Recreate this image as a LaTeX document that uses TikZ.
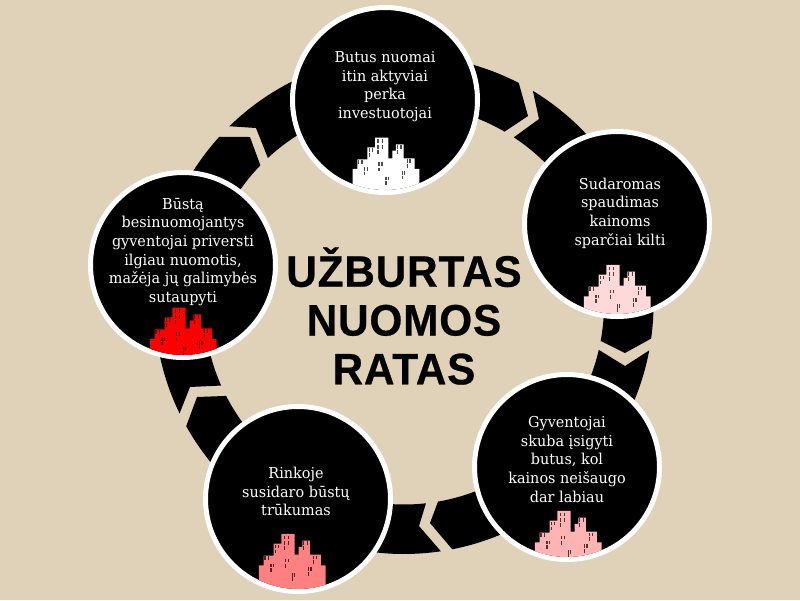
\documentclass[tikz,border=0pt]{standalone}
\usepackage{fontspec}
\setmainfont[FakeStretch=0.96]{DejaVu Serif}
\newfontfamily\titlefont[FakeStretch=0.96,LetterSpace=2,FakeBold=0.6]{Liberation Sans Bold}
\definecolor{bgc}{HTML}{E0D2B8}
\definecolor{c1}{HTML}{FFFFFF}
\definecolor{c2}{HTML}{FFD9D9}
\definecolor{c3}{HTML}{FFB3B3}
\definecolor{c4}{HTML}{FF8080}
\definecolor{c5}{HTML}{FF0000}
\tikzset{
 x=1pt,y=1pt,
 bubble/.style={circle,fill=black,draw=white,line width=5pt,minimum size=185pt,inner sep=0pt,outer sep=0pt},
 bubbletext/.style={text=white,align=center,font=\fontsize{15}{18.7}\selectfont,inner sep=0pt},
 titletext/.style={text=black,align=center,font=\titlefont\fontsize{44}{48.8}\selectfont,inner sep=0pt},
 winstyle/.style={fill=black,fill opacity=0.7}
}
\newcommand\ringseg[8]{\fill[black] ([shift={(#1:249.5)}]404,-304.5) arc[start angle=#1,end angle=#2,radius=249.5] -- (#3,-#4) -- ([shift={(#5:200)}]404,-304.5) arc[start angle=#5,end angle=#6,radius=200] -- (#7,-#8) -- cycle;}
\newcommand\win[2]{\fill[winstyle] (#1,#2) rectangle +(3.8,11);}
\newcommand\winpair[3]{\win{#1}{#3}\win{#2}{#3}}
% clip centre x y, city centre x y, colour
\newcommand\city[5]{%
 \begin{scope}
 \clip (#1,-#2) circle (90);
 \begin{scope}[shift={(#3-45,-#4-20)},x=0.3333pt,y=-0.3333pt]
 \fill[#5] (38,320) -- (38,147) -- (52,147) -- (52,118) -- (82,118) -- (82,82) -- (105,82) -- (105,53) -- (145,53) -- (145,115) -- (157,115) -- (157,92) -- (168,92) -- (168,73) -- (191,73) -- (191,115) -- (224,115) -- (224,147) -- (238,147) -- (238,320) -- cycle;
 \winpair{112}{125}{58}\winpair{112}{125}{75}\win{112}{90}
 \winpair{86}{95}{85}\win{86}{100}
 \winpair{170}{181}{75}\win{170}{90}
 \winpair{54}{64}{120}
 \winpair{72}{80}{142}\win{72}{155}
 \winpair{115}{124}{127}\win{115}{143}
 \winpair{200}{208}{118}\win{200}{132}
 \winpair{185}{192}{153}\win{185}{167}
 \winpair{136}{143}{170}\win{136}{183}
 \end{scope}
 \end{scope}}
\begin{document}
\begin{tikzpicture}
\fill[bgc] (0,0) rectangle (800,-600);
\useasboundingbox (0,0) rectangle (800,-600);
\ringseg{134.4}{62.6}{528}{116}{59.8}{132.9}{256}{128}
\ringseg{58.9}{-7.85}{625}{353}{-10.5}{56.7}{539}{119}
\ringseg{-10.6}{-78.85}{430}{523}{-80.2}{-13.1}{625}{366}
\ringseg{-81.5}{-150.8}{197}{397}{-152.8}{-83.7}{419}{526}
\ringseg{-154.1}{-222.2}{250}{137}{-224.1}{-156.1}{190}{387}
\node[bubble] (n1) at (385,-100) {};
\node[bubble] (n2) at (617,-224) {};
\node[bubble] (n3) at (567,-467) {};
\node[bubble] (n4) at (298,-499) {};
\node[bubble] (n5) at (183,-265) {};
\city{385}{100}{385}{100}{c1}
\city{617}{224}{616.3}{227.3}{c2}
\city{567}{467}{567.3}{473.3}{c3}
\city{298}{499}{291.3}{496.3}{c4}
\city{183}{265}{182.3}{270}{c5}
\node[bubbletext] (t1) at (385,-86.5) {Butus nuomai\\itin aktyviai\\perka\\investuotojai};
\node[bubbletext] (t2) at (620,-213) {Sudaromas\\spaudimas\\kainoms\\sparčiai kilti};
\node[bubbletext] (t3) at (567,-459.5) {Gyventojai\\skuba įsigyti\\butus, kol\\kainos neišaugo\\dar labiau};
\node[bubbletext] (t4) at (296,-491.5) {Rinkoje\\susidaro būstų\\trūkumas};
\node[bubbletext] (t5) at (183,-252) {Būstą\\besinuomojantys\\gyventojai priversti\\ilgiau nuomotis,\\mažėja jų galimybės\\sutaupyti};
\node[titletext] (title) at (404,-316) {UŽBURTAS\\NUOMOS\\RATAS};
\end{tikzpicture}
\end{document}
